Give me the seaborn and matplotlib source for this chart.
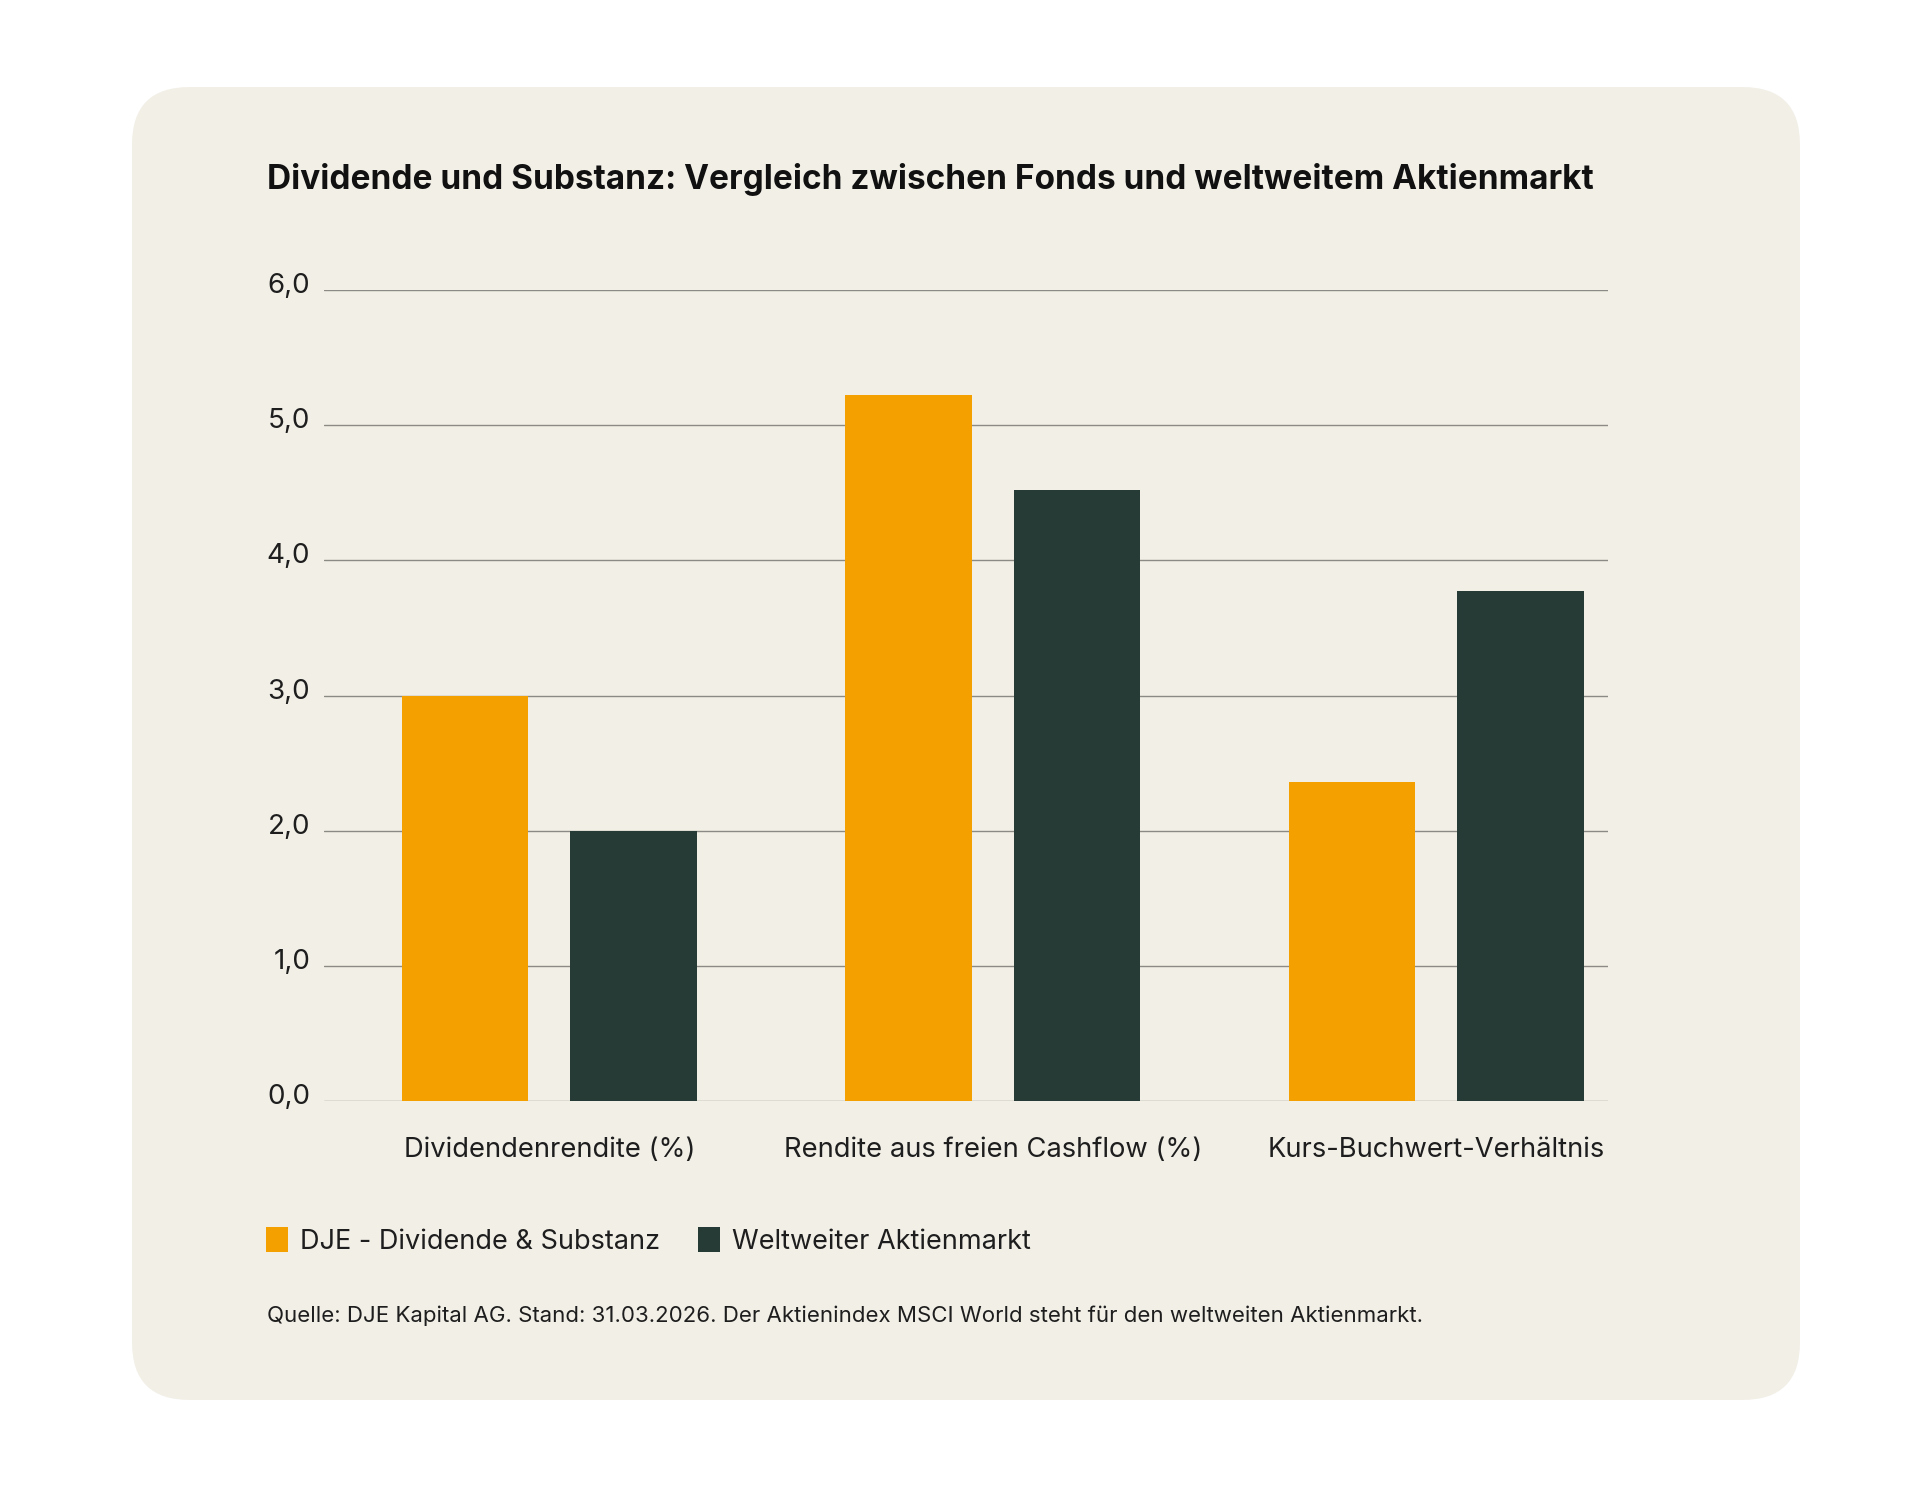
import seaborn as sns
import matplotlib.pyplot as plt
import matplotlib.transforms as mtransforms
from matplotlib.patches import FancyBboxPatch, Patch
import pandas as pd

# chart data
categories = ["Dividendenrendite (%)", "Rendite aus freien Cashflow (%)", "Kurs-Buchwert-Verhältnis"]
fund_values = [3.0, 5.22, 2.36]
world_values = [2.0, 4.52, 3.77]
series_names = ["DJE - Dividende & Substanz", "Weltweiter Aktienmarkt"]
y_ticks = [0, 1, 2, 3, 4, 5, 6]
y_tick_labels = ["0,0", "1,0", "2,0", "3,0", "4,0", "5,0", "6,0"]

title = "Dividende und Substanz: Vergleich zwischen Fonds und weltweitem Aktienmarkt"
source = "Quelle: DJE Kapital AG. Stand: 31.03.2026. Der Aktienindex MSCI World steht für den weltweiten Aktienmarkt."

colors = {series_names[0]: "#F4A000", series_names[1]: "#263A36"}
card_color = "#F2EFE7"
text_color = "#1E1E1E"

df = pd.DataFrame({
    "Kategorie": categories * 2,
    "Wert": fund_values + world_values,
    "Serie": [series_names[0]] * 3 + [series_names[1]] * 3,
})

sns.set_style("white")
plt.rcParams["font.family"] = ["Inter", "DejaVu Sans"]

fig = plt.figure(figsize=(19.2, 15.11), dpi=100)
fig.patch.set_facecolor("white")

# rounded background card, kept behind the axes
card = FancyBboxPatch((132 / 1920, 1 - 1400 / 1511), (1800 - 132) / 1920, (1400 - 87) / 1511,
                      boxstyle="round,pad=0,rounding_size=0.03", transform=fig.transFigure,
                      facecolor=card_color, edgecolor="none", zorder=-10, mutation_aspect=1920 / 1511)
fig.patches.append(card)

ax = fig.add_axes([324 / 1920, 1 - 1101 / 1511, (1608 - 324) / 1920, (1101 - 290) / 1511])
ax.set_zorder(1)
ax.set_facecolor("none")

sns.barplot(data=df, x="Kategorie", y="Wert", hue="Serie", palette=colors,
            width=0.76, gap=0.25, saturation=1, legend=False, linewidth=0, ax=ax, zorder=3)

ax.set_ylim(0, 6)
ax.set_xlim(-0.508, 2.387)
ax.set_yticks(y_ticks)
ax.set_yticklabels(y_tick_labels, fontsize=20, color=text_color)
ax.yaxis.grid(True, color="#8C8A84", linewidth=1.0, zorder=1)
ax.set_axisbelow(True)
for s in ax.spines.values():
    s.set_visible(False)
ax.tick_params(axis="both", length=0)
ax.tick_params(axis="y", pad=10)
ax.tick_params(axis="x", pad=26, labelsize=19.7, labelcolor=text_color)
ax.set_xlabel("")
ax.set_ylabel("")

# lift y tick labels slightly above their gridlines
offset = mtransforms.ScaledTranslation(0, 7 / 100, fig.dpi_scale_trans)
for lbl in ax.get_yticklabels():
    lbl.set_transform(lbl.get_transform() + offset)

fig.text(267 / 1920, 1 - 179 / 1511, title, fontsize=24, fontweight="bold",
         color="#111111", va="center", ha="left")

# legend
legend_y = 1 - 1241 / 1511
handles = [Patch(facecolor=colors[n], edgecolor="none") for n in series_names]
fig.legend(handles, series_names, loc="center left", bbox_to_anchor=(242 / 1920, legend_y),
           ncol=2, frameon=False, fontsize=19.5, handlelength=0.8, handleheight=1.0,
           handletextpad=0.46, columnspacing=1.38, labelcolor=text_color)

fig.text(267 / 1920, 1 - 1316 / 1511, source, fontsize=16, color=text_color,
         va="center", ha="left")

fig.savefig("out.png", dpi=100, facecolor="white")
